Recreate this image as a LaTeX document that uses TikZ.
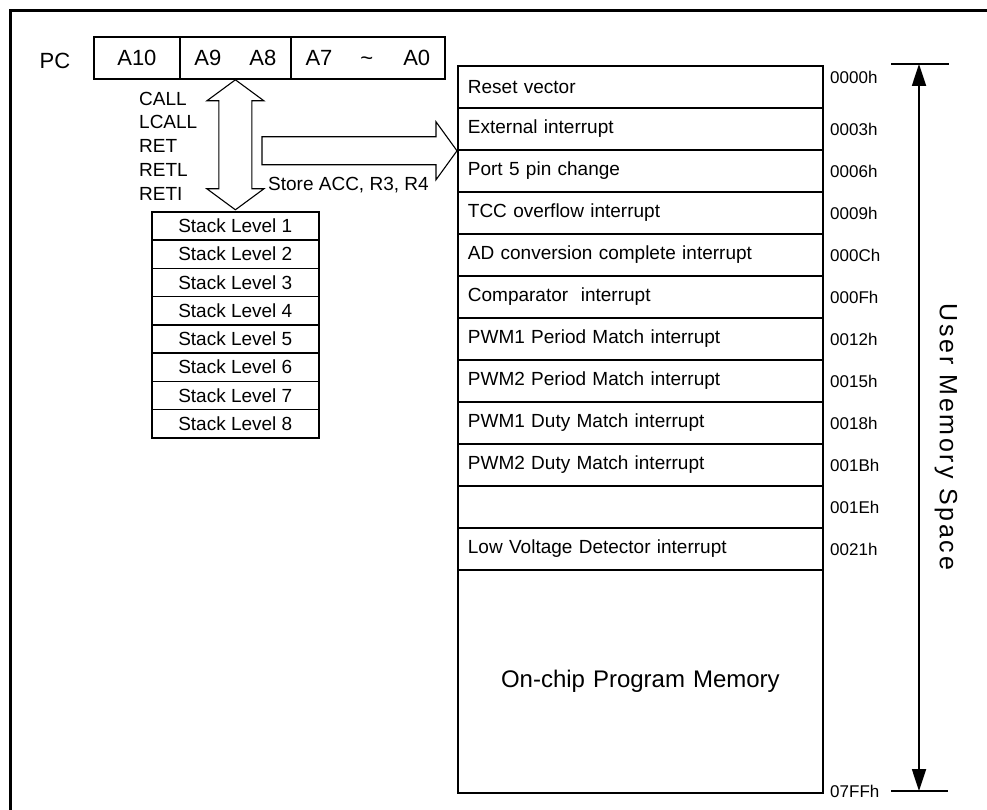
\documentclass[tikz,border=0pt]{standalone}
\usepackage{fontspec}
\setmainfont{Liberation Sans}
\usetikzlibrary{arrows.meta}

\begin{document}
\begin{tikzpicture}[
    x=1pt, y=-1pt,
    font=\fontsize{19}{22}\selectfont,
    pcbox/.style={draw, line width=1.8pt, anchor=north west, minimum height=42pt, inner sep=0pt, font=\fontsize{22}{26}\selectfont},
    vector/.style={draw, line width=1.8pt, anchor=north west, minimum width=365pt, minimum height=42pt, text width=345pt, inner xsep=10pt, inner ysep=0pt, align=left},
    stacklevel/.style={draw, line width=1.6pt, anchor=north west, minimum width=167pt, minimum height=28.25pt, inner sep=0pt},
    addr/.style={anchor=west, inner sep=0pt, font=\fontsize{17}{20}\selectfont},
    plain/.style={inner sep=0pt},
    blockarrow/.style={draw, line width=1.1pt, line join=miter},
    dim/.style={line width=1.8pt},
    dimtip/.style={dim, {Triangle[length=22pt,width=14pt]}-{Triangle[length=22pt,width=14pt]}},
  ]
  \useasboundingbox (0,0) rectangle (987,810);
  \draw[line width=2.6pt] (10.7,810) -- (10.7,10.7) -- (987,10.7);
  \node[plain, font=\fontsize{22}{26}\selectfont] (pc) at (55,61) {PC};
  \node[pcbox, minimum width=86pt] (pc10) at (93,36) {A10};
  \node[pcbox, minimum width=111pt] (pc98) at (179,36) {A9\hspace{28pt}A8};
  \node[pcbox, minimum width=154pt] (pc70) at (290,36) {A7\hspace{28pt}\textasciitilde\hspace{30pt}A0};
  \node[plain, anchor=west, align=left, font=\fontsize{19}{23.7}\selectfont] (ops) at (139,146) {CALL\\LCALL\\RET\\RETL\\RETI};
  \node[stacklevel] (stk1) at (151,211) {Stack Level 1};
  \node[stacklevel] (stk2) at (151,239.25) {Stack Level 2};
  \node[stacklevel] (stk3) at (151,267.5) {Stack Level 3};
  \node[stacklevel] (stk4) at (151,295.75) {Stack Level 4};
  \node[stacklevel] (stk5) at (151,324) {Stack Level 5};
  \node[stacklevel] (stk6) at (151,352.25) {Stack Level 6};
  \node[stacklevel] (stk7) at (151,380.5) {Stack Level 7};
  \node[stacklevel] (stk8) at (151,408.75) {Stack Level 8};
  \node[vector] (mem0) at (457,65) {Reset vector};
  \node[vector] (mem1) at (457,107) {External interrupt};
  \node[vector] (mem2) at (457,149) {Port 5 pin change};
  \node[vector] (mem3) at (457,191) {TCC overflow interrupt};
  \node[vector] (mem4) at (457,233) {AD conversion complete interrupt};
  \node[vector] (mem5) at (457,275) {Comparator\ \ interrupt};
  \node[vector] (mem6) at (457,317) {PWM1 Period Match interrupt};
  \node[vector] (mem7) at (457,359) {PWM2 Period Match interrupt};
  \node[vector] (mem8) at (457,401) {PWM1 Duty Match interrupt};
  \node[vector] (mem9) at (457,443) {PWM2 Duty Match interrupt};
  \node[vector] (mem10) at (457,485) {};
  \node[vector] (mem11) at (457,527) {Low Voltage Detector interrupt};
  \node[vector, minimum height=223pt, align=center, font=\fontsize{24}{28}\selectfont] (mem12) at (457,569) {On-chip Program Memory};
  \node[addr] (a0) at (830,77) {0000h};
  \node[addr] (a1) at (830,129) {0003h};
  \node[addr] (a2) at (830,171) {0006h};
  \node[addr] (a3) at (830,213) {0009h};
  \node[addr] (a4) at (830,255) {000Ch};
  \node[addr] (a5) at (830,297) {000Fh};
  \node[addr] (a6) at (830,339) {0012h};
  \node[addr] (a7) at (830,381) {0015h};
  \node[addr] (a8) at (830,423) {0018h};
  \node[addr] (a9) at (830,465) {001Bh};
  \node[addr] (a10) at (830,507) {001Eh};
  \node[addr] (a11) at (830,549) {0021h};
  \node[addr] (aend) at (830,791) {07FFh};
  \node[plain, anchor=west] (store) at (268,185) {Store ACC, R3, R4};
  \node[plain, rotate=-90, font=\fontsize{25}{29}\selectfont\addfontfeatures{LetterSpace=11}] (ums) at (946,437) {User Memory Space};
  \coordinate (utop) at (919,64);
  \coordinate (ubot) at (919,791);
  \draw[dim] (891,64) -- (949,64);
  \draw[dim] (891,791) -- (948,791);
  \draw[dimtip] (utop) -- (ubot);
  \draw[blockarrow] (pc98.south) -- ++(28.5,21) -- ++(-12,0) -- ++(0,88) -- ++(12,0) -- ++(-28.5,21) -- ++(-28.5,-21) -- ++(12,0) -- ++(0,-88) -- ++(-12,0) -- cycle;
  \draw[blockarrow] (mem1.south west) -- ++(-21,-29) -- ++(0,15) -- ++(-174,0) -- ++(0,28) -- ++(174,0) -- ++(0,15) -- cycle;
\end{tikzpicture}
\end{document}
